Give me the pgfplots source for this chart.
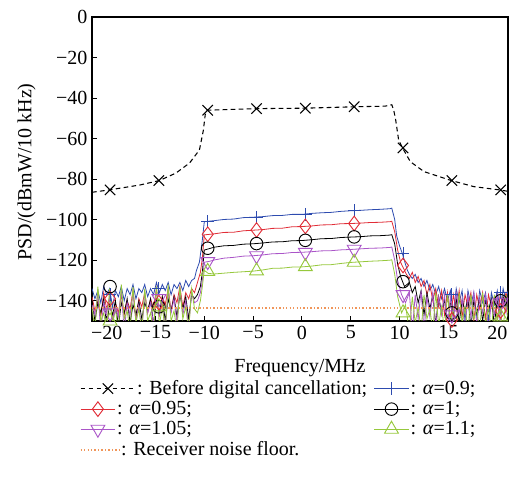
\documentclass[border=0pt]{standalone}
\usepackage{pgfplots}
\pgfplotsset{compat=1.18}
\usepackage{fontspec}
\setmainfont{Liberation Serif}
\definecolor{cblue}{RGB}{45,75,175}
\definecolor{cred}{RGB}{225,45,55}
\definecolor{cpurple}{RGB}{170,85,200}
\definecolor{cgreen}{RGB}{150,200,60}
\definecolor{cfloor}{RGB}{240,150,90}
\pgfplotsset{
 longleg/.style={legend image code/.code={\draw[mark repeat=2,mark phase=2,##1] plot coordinates {(0pt,0pt) (20.5pt,0pt) (41pt,0pt)};}},
 shortleg/.style={legend image code/.code={\draw[mark repeat=2,mark phase=2,##1] plot coordinates {(0pt,0pt) (13pt,0pt) (26pt,0pt)};}},
 floorleg/.style={legend image code/.code={\draw[##1] (0pt,0pt) -- (29pt,0pt);}},
}
\begin{document}
\begin{tikzpicture}[font=\fontsize{15}{18}\selectfont]
\path[use as bounding box] (-69pt,-120.75pt) rectangle (315pt,240.75pt);
\begin{axis}[
 scale only axis, width=312pt, height=228pt,
 at={(0pt,0pt)}, anchor=south west,
 xmin=-21.5, xmax=21.1, ymin=-150, ymax=0,
 xtick={-20,-15,-10,-5,0,5,10,15,20},
 xticklabels={−20,−15,−10,−5,0,5,10,15,20},
 ytick={0,-20,-40,-60,-80,-100,-120,-140},
 yticklabels={0,−20,−40,−60,−80,−100,−120,−140},
 tick align=inside, tick pos=left, major tick length=4pt,
 axis line style={line width=0.8pt},
 every tick/.style={black, line width=0.7pt},
 ticklabel style={font=\fontsize{15}{18}\selectfont},
 label style={font=\fontsize{15}{18}\selectfont},
 xlabel={Frequency/MHz},
 ylabel={PSD/(dBmW/10 kHz)},
 every axis x label/.style={at={(axis description cs:0.5,0)}, anchor=north, yshift=-25pt},
 every axis y label/.style={at={(axis description cs:-0.157,0.49)}, rotate=90, anchor=center},
 legend columns=2,
 legend cell align=left,
 legend style={draw=none, fill=none, at={(axis description cs:-0.03,0)}, anchor=north west, yshift=-43.5pt,
   font=\fontsize{15}{18}\selectfont, inner sep=0pt, row sep=1.6pt,
   nodes={inner xsep=1pt, inner ysep=1pt},
   /tikz/every even column/.append style={column sep=4pt}},
 shortleg,
 clip=true,
]
\addlegendimage{black, line width=0.8pt, dash pattern=on 3.5pt off 2.5pt, mark=x, mark size=5.5pt, mark options={solid}, longleg}
\addlegendentry{: Before digital cancellation;}
\addlegendimage{cblue, line width=0.7pt, mark=+, mark size=4.8pt}
\addlegendentry{: \textit{α}=0.9;}
\addlegendimage{cred, line width=0.7pt, mark=diamond, mark size=5.5pt}
\addlegendentry{\hspace*{-15pt}: \textit{α}=0.95;}
\addlegendimage{black, line width=0.7pt, mark=o, mark size=4.7pt}
\addlegendentry{: \textit{α}=1;}
\addlegendimage{cpurple, line width=0.7pt, mark=triangle, mark size=6pt, mark options={rotate=180}}
\addlegendentry{\hspace*{-15pt}: \textit{α}=1.05;}
\addlegendimage{cgreen, line width=0.7pt, mark=triangle, mark size=6pt}
\addlegendentry{: \textit{α}=1.1;}
\addlegendimage{cfloor, line width=1.2pt, dash pattern=on 1pt off 1.6pt, floorleg}
\addlegendentry{\hspace*{-12pt}: Receiver noise floor.}

% before digital cancellation
\addplot[forget plot, black, line width=0.8pt, dash pattern=on 3.5pt off 2.5pt] coordinates {
(-21.5,-86.5)(-19.7,-85.3)(-16.6,-82.9)(-14.6,-80.7)(-12.9,-77)(-11.5,-72)(-10.5,-65.6)(-10.1,-56)(-9.9,-48)(-9.7,-46)(-4.6,-45.2)(0.3,-45)(5.3,-44.3)(8.5,-44)(9.2,-43.3)(9.4,-46)(9.6,-50.8)(9.9,-60.7)(10.3,-64.6)(11.1,-71.4)(12.5,-76.3)(15.3,-80.7)(17.6,-83.7)(20.2,-85.3)(21.1,-86)};
\addplot[forget plot, only marks, black, mark=x, mark size=5.5pt, line width=0.8pt] coordinates {
(-19.65,-85.3)(-14.65,-80.7)(-9.65,-46)(-4.65,-45.2)(0.35,-45)(5.35,-44.3)(10.35,-64.6)(15.35,-80.7)(20.35,-85.3)};

% alpha = 0.9
\addplot[forget plot, cblue, line width=0.6pt] coordinates {
(-21.5,-134)(-21.2,-139)(-20.9,-135)(-20.6,-141)(-20.3,-133)(-20.0,-137)(-19.7,-134)(-19.4,-143)(-19.1,-135)(-18.8,-138)(-18.5,-133)(-18.2,-140)(-17.9,-134)(-17.6,-137)(-17.3,-132)(-17.0,-139)(-16.7,-134)(-16.4,-136)(-16.1,-132)(-15.8,-138)(-15.5,-134)(-15.2,-137)(-14.9,-131)(-14.6,-136)(-14.3,-132)(-14.0,-135)(-13.7,-131)(-13.4,-137)(-13.1,-132)(-12.8,-134)(-12.5,-131)(-12.2,-135)(-11.9,-130)(-11.6,-133)(-11.3,-130)
(-11.0,-129)(-10.8,-125)(-10.5,-121)(-10.2,-110)(-10.0,-101)
(-9,-100.5)(-8,-99.9)(-7,-99.7)(-6,-99.0)(-5,-98.8)(-4,-98.5)(-3,-98.0)(-2,-97.9)(-1,-97.4)(0,-97.4)(1,-96.9)(2,-96.6)(3,-96.4)(4,-95.9)(5,-95.6)(6,-95.4)(7,-95.1)(8,-94.9)(9,-94.6)(9.2,-94.3)
(9.5,-100)(9.7,-108)(10.0,-113)(10.3,-117)(10.6,-122)(10.8,-125)
(11.0,-127)(11.3,-129)(11.6,-127)(11.9,-131)(12.2,-129)(12.5,-133)(12.8,-130)(13.1,-135)(13.4,-132)(13.7,-137)(14.0,-133)(14.3,-139)(14.6,-134)(14.9,-140)(15.2,-135)(15.5,-146)(15.8,-134)(16.1,-141)(16.4,-135)(16.7,-150)(17.0,-135)(17.3,-142)(17.6,-136)(17.9,-148)(18.2,-135)(18.5,-141)(18.8,-136)(19.1,-150)(19.4,-136)(19.7,-142)(20.0,-135)(20.3,-145)(20.6,-134)(20.9,-140)(21.1,-135)};
\addplot[forget plot, only marks, cblue, mark=+, mark size=4.8pt, line width=0.7pt] coordinates {
(-19.65,-137)(-14.65,-134)(-9.65,-101)(-4.65,-98.8)(0.35,-97.3)(5.35,-95.5)(10.35,-116.6)(15.35,-137)(20.35,-136)};

% alpha = 0.95
\addplot[forget plot, cred, line width=0.6pt] coordinates {
(-21.5,-138)(-21.2,-145)(-20.9,-140)(-20.6,-148)(-20.3,-136)(-20.0,-144)(-19.7,-139)(-19.4,-150)(-19.1,-141)(-18.8,-146)(-18.5,-137)(-18.2,-147)(-17.9,-140)(-17.6,-144)(-17.3,-135)(-17.0,-149)(-16.7,-139)(-16.4,-143)(-16.1,-136)(-15.8,-146)(-15.5,-139)(-15.2,-144)(-14.9,-134)(-14.6,-147)(-14.3,-138)(-14.0,-142)(-13.7,-134)(-13.4,-145)(-13.1,-137)(-12.8,-141)(-12.5,-133)(-12.2,-143)(-11.9,-136)(-11.6,-139)(-11.3,-134)
(-11.0,-136)(-10.7,-131)(-10.4,-126)(-10.2,-119)(-10.0,-107.5)
(-9,-107.0)(-8,-106.3)(-7,-106.2)(-6,-105.5)(-5,-105.2)(-4,-104.9)(-3,-104.3)(-2,-104.2)(-1,-103.5)(0,-103.4)(1,-103.1)(2,-102.6)(3,-102.5)(4,-102.0)(5,-101.9)(6,-101.7)(7,-101.4)(8,-101.3)(9,-101.0)(9.2,-100.8)
(9.5,-106)(9.8,-115)(10.1,-121)(10.4,-124)(10.7,-127)
(11.0,-129)(11.3,-126)(11.6,-131)(11.9,-128)(12.2,-133)(12.5,-130)(12.8,-137)(13.1,-132)(13.4,-140)(13.7,-134)(14.0,-143)(14.3,-135)(14.6,-147)(14.9,-136)(15.2,-150)(15.5,-137)(15.8,-145)(16.1,-135)(16.4,-148)(16.7,-137)(17.0,-143)(17.3,-136)(17.6,-150)(17.9,-137)(18.2,-144)(18.5,-136)(18.8,-149)(19.1,-137)(19.4,-143)(19.7,-138)(20.0,-150)(20.3,-137)(20.6,-142)(20.9,-136)(21.1,-141)};
\addplot[forget plot, only marks, cred, mark=diamond, mark size=5.5pt, line width=0.7pt] coordinates {
(-19.65,-139)(-14.65,-141)(-9.65,-107.2)(-4.65,-105.1)(0.35,-103.3)(5.35,-101.9)(10.35,-122.6)(15.35,-149.5)(20.35,-145)};

% alpha = 1
\addplot[forget plot, black, line width=0.6pt] coordinates {
(-21.5,-140)(-21.2,-150)(-20.9,-141)(-20.6,-146)(-20.3,-139)(-20.0,-152)(-19.7,-142)(-19.4,-147)(-19.1,-140)(-18.8,-153)(-18.5,-141)(-18.2,-146)(-17.9,-139)(-17.6,-151)(-17.3,-142)(-17.0,-147)(-16.7,-140)(-16.4,-149)(-16.1,-141)(-15.8,-145)(-15.5,-139)(-15.2,-152)(-14.9,-140)(-14.6,-146)(-14.3,-138)(-14.0,-150)(-13.7,-139)(-13.4,-145)(-13.1,-138)(-12.8,-148)(-12.5,-137)(-12.2,-144)(-11.9,-138)(-11.6,-149)(-11.3,-137)
(-11.0,-139)(-10.7,-137)(-10.4,-133)(-10.2,-126)(-10.0,-115)
(-9,-113.6)(-8,-112.9)(-7,-112.7)(-6,-112.1)(-5,-111.9)(-4,-111.5)(-3,-111.0)(-2,-110.9)(-1,-110.4)(0,-110.3)(1,-109.9)(2,-109.4)(3,-109.3)(4,-108.8)(5,-108.6)(6,-108.4)(7,-108.0)(8,-107.9)(9,-107.6)(9.2,-107.4)
(9.5,-112)(9.8,-122)(10.1,-128)(10.5,-133)
(11.0,-131)(11.3,-136)(11.6,-133)(11.9,-141)(12.2,-135)(12.5,-147)(12.8,-136)(13.1,-144)(13.4,-137)(13.7,-152)(14.0,-138)(14.3,-146)(14.6,-139)(14.9,-155)(15.2,-140)(15.5,-147)(15.8,-139)(16.1,-151)(16.4,-140)(16.7,-145)(17.0,-139)(17.3,-153)(17.6,-140)(17.9,-146)(18.2,-139)(18.5,-150)(18.8,-140)(19.1,-145)(19.4,-139)(19.7,-152)(20.0,-140)(20.3,-146)(20.6,-138)(20.9,-143)(21.1,-139)};
\addplot[forget plot, only marks, black, mark=o, mark size=4.7pt, line width=0.7pt] coordinates {
(-19.65,-133)(-14.65,-143)(-9.65,-114.1)(-4.65,-111.8)(0.35,-110.2)(5.35,-108.5)(10.35,-130.6)(15.35,-146)(20.35,-140)};

% alpha = 1.05
\addplot[forget plot, cpurple, line width=0.6pt] coordinates {
(-21.5,-142)(-21.2,-147)(-20.9,-136)(-20.6,-155)(-20.3,-141)(-20.0,-146)(-19.7,-138)(-19.4,-151)(-19.1,-143)(-18.8,-148)(-18.5,-135)(-18.2,-155)(-17.9,-141)(-17.6,-147)(-17.3,-136)(-17.0,-150)(-16.7,-142)(-16.4,-155)(-16.1,-136)(-15.8,-146)(-15.5,-141)(-15.2,-152)(-14.9,-134)(-14.6,-147)(-14.3,-141)(-14.0,-155)(-13.7,-135)(-13.4,-146)(-13.1,-139)(-12.8,-151)(-12.5,-134)(-12.2,-147)(-11.9,-140)(-11.6,-153)(-11.3,-136)
(-11.0,-141)(-10.7,-140)(-10.4,-136)(-10.2,-130)(-10.0,-121)
(-9.5,-120.6)(-9,-119.9)(-8,-119.0)(-7,-118.6)(-6,-118.0)(-5,-117.8)(-4,-117.4)(-3,-116.8)(-2,-116.7)(-1,-116.2)(0,-116.1)(1,-115.8)(2,-115.4)(3,-115.3)(4,-114.9)(5,-114.7)(6,-114.4)(7,-114.1)(8,-114.0)(9,-113.7)(9.2,-113.5)
(9.5,-120)(9.8,-130)(10.2,-137)(10.6,-141)
(11.0,-136)(11.3,-155)(11.6,-137)(11.9,-149)(12.2,-135)(12.5,-155)(12.8,-138)(13.1,-148)(13.4,-136)(13.7,-153)(14.0,-138)(14.3,-147)(14.6,-137)(14.9,-155)(15.2,-138)(15.5,-150)(15.8,-136)(16.1,-146)(16.4,-139)(16.7,-155)(17.0,-137)(17.3,-148)(17.6,-136)(17.9,-152)(18.2,-139)(18.5,-146)(18.8,-137)(19.1,-155)(19.4,-140)(19.7,-147)(20.0,-137)(20.3,-151)(20.6,-139)(20.9,-146)(21.1,-138)};
\addplot[forget plot, only marks, cpurple, mark=triangle, mark size=6pt, mark options={rotate=180}, line width=0.7pt] coordinates {
(-19.65,-146)(-14.65,-139)(-9.65,-120.7)(-4.65,-117.8)(0.35,-116.1)(5.35,-114.6)(10.35,-137)(15.35,-147)(20.35,-141)};

% alpha = 1.1
\addplot[forget plot, cgreen, line width=0.6pt] coordinates {
(-21.5,-143)(-21.2,-155)(-20.9,-133)(-20.6,-150)(-20.3,-146)(-20.0,-155)(-19.7,-134)(-19.4,-152)(-19.1,-144)(-18.8,-155)(-18.5,-132)(-18.2,-149)(-17.9,-145)(-17.6,-155)(-17.3,-133)(-17.0,-151)(-16.7,-144)(-16.4,-155)(-16.1,-134)(-15.8,-150)(-15.5,-146)(-15.2,-155)(-14.9,-133)(-14.6,-152)(-14.3,-143)(-14.0,-155)(-13.7,-132)(-13.4,-150)(-13.1,-145)(-12.8,-155)(-12.5,-133)(-12.2,-149)(-11.9,-143)(-11.6,-155)(-11.3,-134)
(-11.0,-144)(-10.7,-146)(-10.4,-140)(-10.2,-133)(-10.0,-125)
(-9.6,-126.5)(-9,-126.8)(-8,-126.4)(-7,-126.0)(-6,-125.7)(-5,-125.4)(-4,-124.8)(-3,-124.0)(-2,-123.9)(-1,-123.4)(0,-123.3)(1,-122.9)(2,-122.3)(3,-122.2)(4,-121.6)(5,-121.1)(6,-120.8)(7,-120.5)(8,-120.3)(9,-120.0)(9.2,-119.8)
(9.5,-127)(9.8,-138)(10.2,-146)(10.6,-142)
(11.0,-155)(11.3,-138)(11.6,-151)(11.9,-143)(12.2,-155)(12.5,-137)(12.8,-149)(13.1,-144)(13.4,-155)(13.7,-136)(14.0,-152)(14.3,-143)(14.6,-155)(14.9,-137)(15.2,-150)(15.5,-144)(15.8,-155)(16.1,-136)(16.4,-151)(16.7,-143)(17.0,-155)(17.3,-137)(17.6,-149)(17.9,-144)(18.2,-155)(18.5,-136)(18.8,-152)(19.1,-143)(19.4,-155)(19.7,-137)(20.0,-150)(20.3,-144)(20.6,-155)(20.9,-137)(21.1,-148)};
\addplot[forget plot, only marks, cgreen, mark=triangle, mark size=6pt, line width=0.7pt] coordinates {
(-19.65,-150)(-14.65,-143)(-9.65,-125.5)(-4.65,-125.3)(0.35,-123.2)(5.35,-121)(10.35,-146)(15.35,-152)(20.35,-148)};

% receiver noise floor
\addplot[forget plot, cfloor, line width=1.2pt, dash pattern=on 1pt off 1.6pt] coordinates {(-21.5,-143.5) (21.1,-143.5)};
\end{axis}
\end{tikzpicture}
\end{document}
